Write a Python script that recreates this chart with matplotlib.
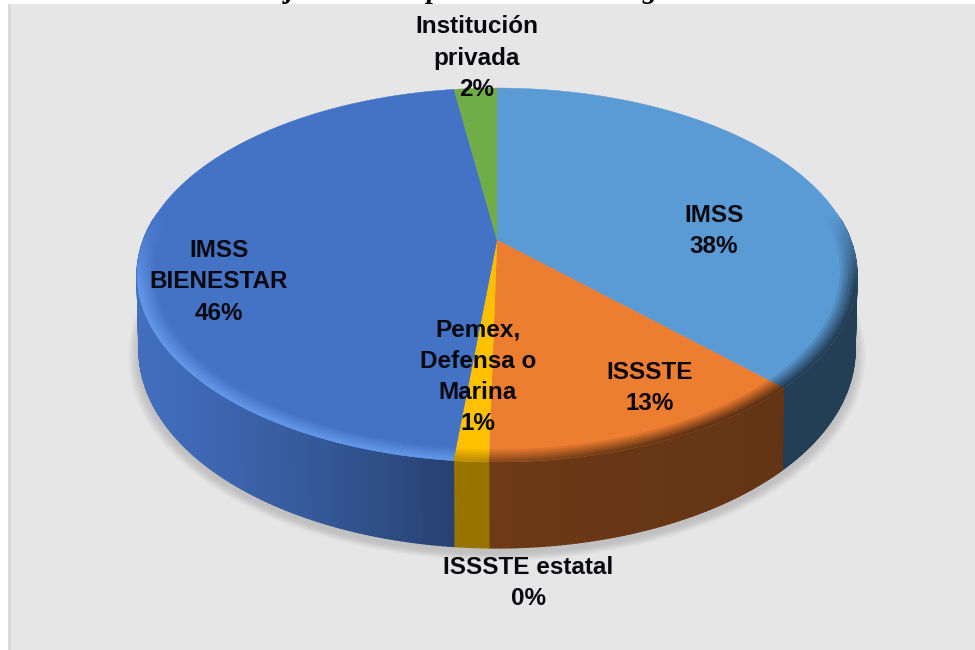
import numpy as np
from matplotlib import pyplot as plt
from matplotlib.collections import PolyCollection
from matplotlib.colors import to_rgb
from matplotlib.patches import Rectangle, Polygon

# datos de la grafica
etiquetas = ['IMSS\n38%', 'ISSSTE\n13%', 'Pemex,\nDefensa o\nMarina\n1%',
             'ISSSTE estatal\n0%', 'IMSS\nBIENESTAR\n46%', 'Institución\nprivada\n2%']
valores = [37.6, 12.7, 1.3, 0.0, 46.1, 2.3]
colores = ['#5b9bd5', '#ed7d31', '#ffc000', '#a5a5a5', '#4472c4', '#70ad47']
# brillo de la pared lateral (lado izquierdo, lado derecho)
pared = [(0.40, 0.40), (0.52, 0.40), (0.60, 0.60), (0.6, 0.6), (1.00, 0.52), (0.6, 0.6)]
pos_etiquetas = [(714, 231), (650, 388), (478, 377), (528, 583), (219, 282), (477, 58)]

# geometria del disco en perspectiva (pixeles de la imagen)
cx, cy = 497, 240
k, a, b = 0.187, 180.4, 353.6


def disco(t, r=1.0):
    x, y = r*np.sin(t), r*np.cos(t)
    den = 1 + k*y
    return cx + b*x/den, cy - a*y/den


def base(t):
    # borde inferior de la pared
    X, Y = disco(t)
    prof = 72 + 14*np.clip(-np.cos(t), 0, 1)
    return X - 2*np.sin(t), Y + prof


fig = plt.figure(figsize=(9.75, 6.5), dpi=100)
ax = fig.add_axes([0, 0, 1, 1])
ax.set_xlim(0, 975)
ax.set_ylim(650, 0)
ax.axis('off')

# restos del titulo, cortado por el borde de la imagen
for letra, xl in [('j', 290), ('p', 433), ('g', 650)]:
    ax.text(xl, -2.5, letra, family='Liberation Serif', weight='bold', style='italic',
            fontsize=21, ha='center', va='baseline', color='black', zorder=1)
ax.add_patch(Rectangle((8, 4), 967, 646, fc='#e7e6e6', ec='none', zorder=2))
ax.add_patch(Rectangle((8, 4), 3, 646, fc='#dcdbdb', ec='none', zorder=2))

# sombra
tt = np.linspace(0, 2*np.pi, 240)
bx, by = base(tt)
for i in range(14):
    s = 1 + 0.0022*(14 - i)
    px = cx + (bx - cx)*s
    py = 300 + (by - 300)*s + 5
    ax.add_patch(Polygon(np.c_[px, py], fc='#8c8c8c', ec='none', alpha=0.03, zorder=3))

# angulos de cada rebanada
limites = np.r_[0, np.cumsum(valores)]/np.sum(valores)*2*np.pi

# pared lateral, solo la parte de enfrente
quads, cols = [], []
for i, c in enumerate(colores):
    t0, t1 = limites[i], limites[i+1]
    n = max(2, int((t1 - t0)*80))
    ts = np.linspace(t0, t1, n)
    for u, v in zip(ts[:-1], ts[1:]):
        m = (u + v)/2
        if np.cos(m) > 0.12:
            continue
        x0, y0 = disco(np.array([u, v]))
        x1, y1 = base(np.array([u, v]))
        quads.append([(x0[0], y0[0]), (x0[1], y0[1]), (x1[1], y1[1]), (x1[0], y1[0])])
        f = (np.sin(m) + 1)/2
        if c == '#4472c4':
            # el azul se apaga hacia el centro
            g = 0.97 - 0.43*min(1, f/0.47)**1.6
        else:
            g = pared[i][0] + (pared[i][1] - pared[i][0])*f
        cols.append(np.array(to_rgb(c))*g)
ax.add_collection(PolyCollection(quads, facecolors=cols, edgecolors=cols, linewidths=1.0, zorder=4))

# cara superior
for i, c in enumerate(colores):
    ts = np.linspace(limites[i], limites[i+1], 120)
    X, Y = disco(ts)
    ax.fill(np.r_[cx, X], np.r_[cy, Y], fc=c, ec=c, lw=0.3, zorder=5)

# bisel del borde: claro a la izquierda, oscuro a la derecha
quads, cols = [], []
radios = np.linspace(0.955, 1.0, 7)
for i, c in enumerate(colores):
    t0, t1 = limites[i], limites[i+1]
    n = max(2, int((t1 - t0)*80))
    ts = np.linspace(t0, t1, n)
    base_c = np.array(to_rgb(c))
    for u, v in zip(ts[:-1], ts[1:]):
        m = (u + v)/2
        peso = np.clip((0.15 - np.cos(m))/0.4, 0, 1)
        if peso == 0:
            continue
        f = (np.sin(m) + 1)/2
        for r0, r1 in zip(radios[:-1], radios[1:]):
            w = peso*(r1 - radios[0])/(radios[-1] - radios[0])
            if c == '#4472c4':
                borde = np.array(to_rgb('#6a9ff0'))
                quizas = w*0.8
            else:
                borde = base_c*pared[i][1]
                quizas = w*min(1, f*1.35)
            col = base_c*(1 - quizas) + borde*quizas
            xa, ya = disco(np.array([u, v]), r0)
            xb, yb = disco(np.array([u, v]), r1)
            quads.append([(xa[0], ya[0]), (xa[1], ya[1]), (xb[1], yb[1]), (xb[0], yb[0])])
            cols.append(col)
ax.add_collection(PolyCollection(quads, facecolors=cols, edgecolors=cols, linewidths=0.4, zorder=6))

# etiquetas
for texto, (xt, yt) in zip(etiquetas, pos_etiquetas):
    ax.text(xt, yt, texto, family='Liberation Sans', weight='bold', fontsize=17.5,
            ha='center', va='center', linespacing=1.45, color='#08080f', zorder=8)

fig.savefig('out.png', dpi=100)
